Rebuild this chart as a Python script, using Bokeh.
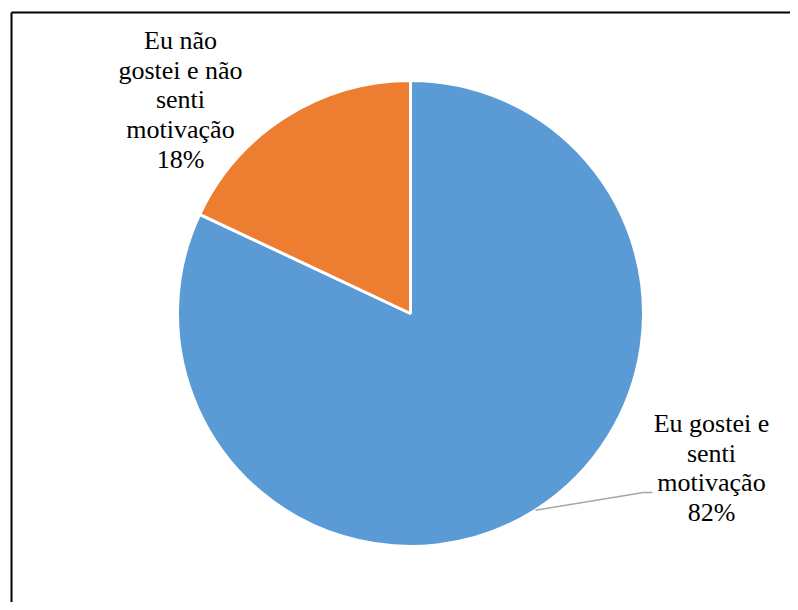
import math
from bokeh.plotting import figure
from bokeh.models import Range1d, ColumnDataSource
from bokeh.embed import file_html
from bokeh.resources import INLINE
from bokeh.core.properties import value

# ---- data ----
categories = ["Eu gostei e senti motivação", "Eu não gostei e não senti motivação"]
label_lines = [["Eu gostei e", "senti", "motivação"],
               ["Eu não", "gostei e não", "senti", "motivação"]]
percents = [82, 18]
colors = ["#5B9BD5", "#ED7D31"]

# ---- figure (1 data unit = 1 px, origin at top-left of picture) ----
W, H = 790, 602
p = figure(width=W, height=H, x_range=Range1d(0, W), y_range=Range1d(0, H),
           output_backend="svg", toolbar_location=None, min_border=0)
p.axis.visible = False
p.grid.visible = False
p.outline_line_color = None
p.background_fill_color = "white"
p.border_fill_color = "white"

def px(x):
    return x

def py(y):
    return H - y

# frame lines (left and top of the chart area box)
p.segment(x0=[px(11), px(11)], y0=[py(12), py(12)], x1=[px(11), px(820)], y1=[py(640), py(12)],
          line_color="black", line_width=2)

# ---- pie ----
cx, cy, r = px(410), py(313), 233
total = sum(percents)
start = math.pi / 2
starts, ends = [], []
for v in percents:
    sweep = 2 * math.pi * v / total
    starts.append(start)
    ends.append(start - sweep)
    start -= sweep

src = ColumnDataSource(dict(x=[cx] * len(percents), y=[cy] * len(percents),
                            s=starts, e=ends, c=colors, cat=categories))
p.wedge(x="x", y="y", radius=r, start_angle="s", end_angle="e", direction="clock",
        fill_color="c", line_color="white", line_width=3, source=src)

# ---- labels ----
lh = 29.7
label_pos = [(px(711), py(423)), (px(180), py(40))]
for i, (lines, v) in enumerate(zip(label_lines, percents)):
    all_lines = lines + [f"{v}%"]
    lx, ly = label_pos[i]
    p.text(x=[lx] * len(all_lines), y=[ly - k * lh for k in range(len(all_lines))],
           text=all_lines, text_font=value("Liberation Serif"), text_font_size="26px",
           text_color="black", text_align="center", text_baseline="alphabetic")

# leader line for the big slice
mid = (starts[0] + ends[0]) / 2
ex, ey = cx + r * math.cos(mid), cy + r * math.sin(mid)
p.line(x=[ex, px(643), px(652)], y=[ey, py(492), py(492)], line_color="#A6A6A6", line_width=1.5)

open("out.html", "w").write(file_html(p, INLINE))
